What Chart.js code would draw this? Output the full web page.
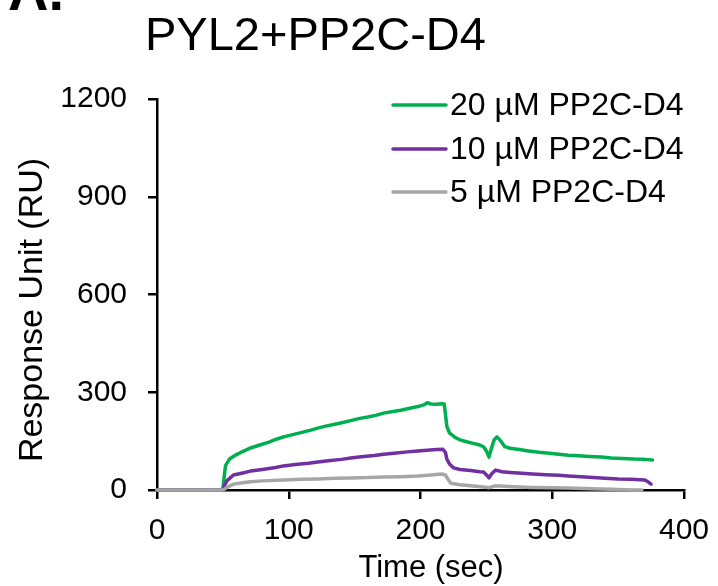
<!DOCTYPE html>
<html>
<head>
<meta charset="utf-8">
<script src="https://cdn.jsdelivr.net/npm/chart.js@4"></script>
<style>
  html, body { margin: 0; padding: 0; background: #fff; }
  #wrap { width: 718px; height: 586px; }
</style>
</head>
<body>
<div id="wrap"><canvas id="spr" width="718" height="586"></canvas></div>
<script>
// sensorgram readings (time in sec, response in RU)
const greenTime = [0, 50, 51, 52, 55, 60, 65, 71, 78, 85, 90, 96, 103, 110, 116, 122, 128, 135, 141, 147, 153, 160, 166, 172, 178, 185, 191, 198, 203, 205, 208, 212, 216, 218, 219, 220, 222, 226, 230, 235, 240, 245, 248, 250, 252, 254, 256, 258, 261, 264, 268, 275, 282, 290, 298, 305, 312, 320, 328, 337, 345, 353, 362, 370, 376];
const greenRU = [0, 0, 40, 75, 95, 108, 118, 129, 138, 147, 155, 163, 170, 177, 183, 190, 196, 202, 207, 213, 219, 224, 229, 236, 240, 245, 250, 256, 262, 268, 264, 263, 265, 264, 230, 195, 175, 162, 154, 148, 143, 138, 132, 120, 101, 130, 155, 163, 150, 133, 128, 124, 120, 116, 113, 110, 107, 105, 103, 101, 98, 97, 95, 94, 92];

const purpleTime = [0, 50, 51, 53, 58, 65, 71, 80, 90, 96, 105, 115, 122, 130, 140, 147, 155, 165, 172, 180, 190, 198, 205, 212, 217, 219, 220, 222, 225, 230, 238, 245, 248, 251, 252, 254, 257, 262, 268, 274, 285, 295, 305, 312, 325, 340, 350, 360, 370, 372, 375];
const purpleRU = [0, 0, 12, 28, 46, 52, 58, 63, 69, 74, 78, 82, 86, 90, 94, 98, 102, 106, 110, 113, 117, 120, 122, 124, 125, 115, 95, 80, 68, 63, 60, 56, 55, 42, 37, 50, 61, 56, 54, 52, 49, 47, 45, 43, 40, 36, 34, 33, 31, 27, 18];

const grayTime = [0, 50, 52, 55, 58, 65, 71, 80, 96, 110, 122, 135, 147, 160, 172, 185, 198, 208, 216, 219, 221, 223, 230, 240, 248, 252, 256, 261, 270, 285, 300, 312, 330, 345, 355, 362, 368];
const grayRU = [0, 0, 5, 12, 18, 22, 25, 28, 31, 33, 34, 36, 37, 38, 40, 41, 43, 46, 49, 46, 32, 21, 16, 12, 9, 7, 12, 12, 10, 8, 7, 6, 4, 2, 1, 0, 0];

const seriesLabels = ["20 \u00b5M PP2C-D4", "10 \u00b5M PP2C-D4", "5 \u00b5M PP2C-D4"];
const seriesColors = ["#00b050", "#7030a0", "#a6a6a6"];
const xTicks = [0, 100, 200, 300, 400];
const yTicks = [0, 300, 600, 900, 1200];

const FONT = "'Liberation Sans', Arial, sans-serif";

function pts(t, v) {
  return t.map((x, i) => ({ x, y: v[i] }));
}

// panel letter, heading, axis titles and the hand placed legend
const decor = {
  id: "decor",
  afterDraw(chart) {
    const ctx = chart.ctx;
    ctx.save();
    ctx.fillStyle = "#000";
    ctx.textBaseline = "alphabetic";
    ctx.font = "bold 56px " + FONT;
    ctx.fillText("A.", 8, 10);
    ctx.font = "47px " + FONT;
    ctx.fillText("PYL2+PP2C-D4", 145, 50);

    ctx.font = "31px " + FONT;
    ctx.textAlign = "center";
    ctx.fillText("Time (sec)", 431, 577);
    ctx.save();
    ctx.translate(42, 310);
    ctx.rotate(-Math.PI / 2);
    ctx.font = "34px " + FONT;
    ctx.fillText("Response Unit (RU)", 0, 0);
    ctx.restore();

    ctx.textAlign = "left";
    ctx.font = "32px " + FONT;
    ctx.textBaseline = "middle";
    const rows = [105, 149, 192];
    seriesLabels.forEach((lab, i) => {
      ctx.strokeStyle = seriesColors[i];
      ctx.lineWidth = 3.5;
      ctx.lineCap = "round";
      ctx.beginPath();
      ctx.moveTo(393, rows[i]);
      ctx.lineTo(446, rows[i]);
      ctx.stroke();
      ctx.fillText(lab, 450, rows[i] + 1);
    });
    ctx.restore();
  }
};

new Chart(document.getElementById("spr"), {
  type: "line",
  data: {
    datasets: [
      { label: seriesLabels[0], data: pts(greenTime, greenRU), borderColor: seriesColors[0], order: 2 },
      { label: seriesLabels[1], data: pts(purpleTime, purpleRU), borderColor: seriesColors[1], order: 1 },
      { label: seriesLabels[2], data: pts(grayTime, grayRU), borderColor: seriesColors[2], order: 0 }
    ]
  },
  options: {
    responsive: false,
    animation: false,
    layout: { padding: { left: 0, top: 99, right: 34, bottom: 0 } },
    elements: {
      line: { borderWidth: 3.5, tension: 0, fill: false, borderCapStyle: "round", borderJoinStyle: "round" },
      point: { radius: 0 }
    },
    datasets: { line: { clip: false } },
    plugins: { legend: { display: false }, tooltip: { enabled: false } },
    scales: {
      x: {
        type: "linear",
        min: 0, max: 400,
        afterBuildTicks: s => { s.ticks = xTicks.map(v => ({ value: v })); },
        afterFit: s => { s.height = 96; s.paddingLeft = 0; s.paddingRight = 0; },
        border: { color: "#000", width: 2.5 },
        grid: { drawOnChartArea: false, drawTicks: true, tickLength: 9, color: "#000", lineWidth: 2.5 },
        ticks: { color: "#000", padding: 14, maxRotation: 0, callback: v => String(v), font: { family: FONT, size: 30 } }
      },
      y: {
        min: 0, max: 1200,
        afterBuildTicks: s => { s.ticks = yTicks.map(v => ({ value: v })); },
        afterFit: s => { s.width = 157; s.paddingTop = 0; s.paddingBottom = 0; },
        border: { color: "#000", width: 2.5 },
        grid: { drawOnChartArea: false, drawTicks: true, tickLength: 9, color: "#000", lineWidth: 2.5 },
        ticks: { color: "#000", padding: 21, callback: v => String(v), font: { family: FONT, size: 30 } }
      }
    }
  },
  plugins: [decor]
});
</script>
</body>
</html>
